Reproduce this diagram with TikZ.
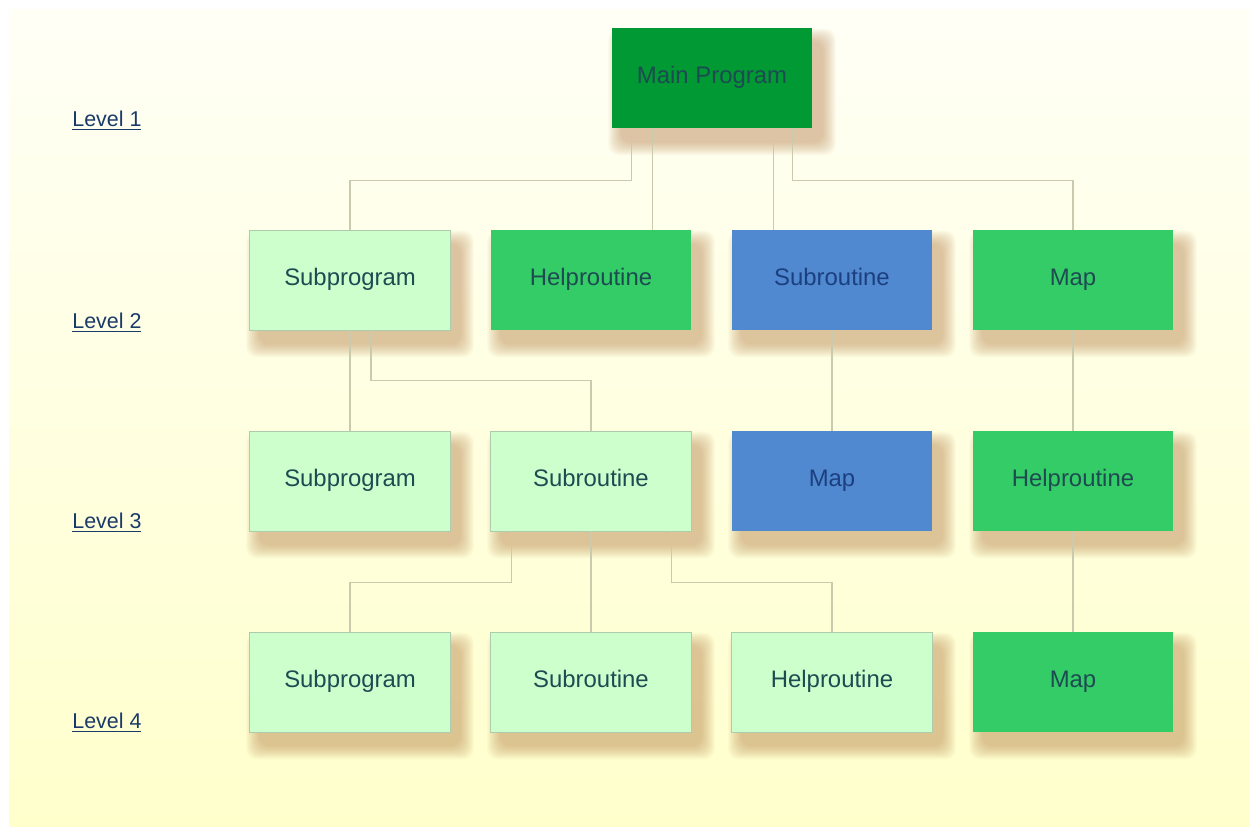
\documentclass[tikz,border=0pt]{standalone}
\usepackage{fontspec}
\setmainfont{Liberation Sans}
\usetikzlibrary{backgrounds}

\definecolor{bgtop}{HTML}{FFFFF6}
\definecolor{bgbot}{HTML}{FFFFCC}
\definecolor{maingreen}{HTML}{009933}
\definecolor{midgreen}{HTML}{33CC66}
\definecolor{lightgreen}{HTML}{CCFFCC}
\definecolor{midblue}{HTML}{5089D0}
\definecolor{boxtext}{HTML}{1E4A52}
\definecolor{bluetext}{HTML}{1C3F80}
\definecolor{leveltext}{HTML}{1A3A6A}
\definecolor{linkcol}{HTML}{CACAAE}
\definecolor{shadowcol}{HTML}{B8804A}

\tikzset{
  box/.style={rectangle, minimum width=4.02cm, minimum height=2cm, inner sep=0pt,
    text height=0.78em, text depth=0.14em,
    text=boxtext, font=\fontsize{13.6}{16}\selectfont},
  light/.style={box, fill=lightgreen, draw=lightgreen!60!gray, line width=0.5pt},
  green/.style={box, fill=midgreen},
  blue/.style={box, fill=midblue, text=bluetext},
  link/.style={draw=linkcol, line width=0.6pt},
  level/.style={anchor=west, inner sep=0pt, text=leveltext, font=\fontsize{12.2}{14}\selectfont}
}

\begin{document}
\begin{tikzpicture}[x=0.02cm, y=-0.02cm]
  \useasboundingbox (0,0) rectangle (1249,826);

  %%%%%%%%%%%%%The levels%%%%%%%%%%%%%%%%%%%%%%
  \node[level] (lev1) at (72,121) {\underline{Level 1}};
  \node[level] (lev2) at (72,323) {\underline{Level 2}};
  \node[level] (lev3) at (72,523) {\underline{Level 3}};
  \node[level] (lev4) at (72,723) {\underline{Level 4}};

  %%%%%%%%%%%%%Level 1%%%%%%%%%%%%%%%%%%%%%%
  \node[box, fill=maingreen] (main) at (712,78) {Main Program};

  %%%%%%%%%%%%%Level 2%%%%%%%%%%%%%%%%%%%%%%
  \node[light] (sub2) at (350,280) {Subprogram};
  \node[green] (help2) at (591,280) {Helproutine};
  \node[blue] (rout2) at (832,280) {Subroutine};
  \node[green] (map2) at (1073,280) {Map};

  %%%%%%%%%%%%%Level 3%%%%%%%%%%%%%%%%%%%%%%
  \node[light] (sub3) at (350,481) {Subprogram};
  \node[light] (rout3) at (591,481) {Subroutine};
  \node[blue] (map3) at (832,481) {Map};
  \node[green] (help3) at (1073,481) {Helproutine};

  %%%%%%%%%%%%%Level 4%%%%%%%%%%%%%%%%%%%%%%
  \node[light] (sub4) at (350,682) {Subprogram};
  \node[light] (rout4) at (591,682) {Subroutine};
  \node[light] (help4) at (832,682) {Helproutine};
  \node[green] (map4) at (1073,682) {Map};

  %%%%%%%%%%%%%Paper and shadows%%%%%%%%%%%%%%%%%%%%%%
  \begin{pgfonlayer}{background}
    \fill[white] (0,0) rectangle (1249,826);
    \shade[top color=bgtop, bottom color=bgbot] (9,9) rectangle (1249,826);
    \foreach \b in {main,sub2,help2,rout2,map2,sub3,rout3,map3,help3,sub4,rout4,help4,map4}
      \foreach \i [evaluate=\i as \e using 14-2*\i] in {0,...,13}
        \fill[shadowcol, opacity=0.04, rounded corners=6]
          ([shift={(10-\e,14-\e)}]\b.north west) rectangle ([shift={(10+\e,14+\e)}]\b.south east);
  \end{pgfonlayer}

  %%%%%%%%%%%%%The calls%%%%%%%%%%%%%%%%%%%%%%
  \coordinate (m1) at ([xshift=0.4cm]main.south west);
  \coordinate (m2) at ([xshift=0.82cm]main.south west);
  \coordinate (m3) at ([xshift=-0.78cm]main.south east);
  \coordinate (m4) at ([xshift=-0.4cm]main.south east);
  \draw[link] (m1) -- ++(0,52) -| (sub2.north);
  \draw[link] (m2) -- (m2 |- help2.north);
  \draw[link] (m3) -- (m3 |- rout2.north);
  \draw[link] (m4) -- ++(0,52) -| (map2.north);

  \coordinate (s1) at ([xshift=0.42cm]sub2.south);
  \draw[link] (sub2.south) -- (sub3.north);
  \draw[link] (s1) -- ++(0,50) -| (rout3.north);
  \draw[link] (rout2.south) -- (map3.north);
  \draw[link] (map2.south) -- (help3.north);

  \coordinate (r1) at ([xshift=0.42cm]rout3.south west);
  \coordinate (r3) at ([xshift=-0.4cm]rout3.south east);
  \draw[link] (r1) -- ++(0,51) -| (sub4.north);
  \draw[link] (rout3.south) -- (rout4.north);
  \draw[link] (r3) -- ++(0,51) -| (help4.north);
  \draw[link] (help3.south) -- (map4.north);
\end{tikzpicture}
\end{document}
